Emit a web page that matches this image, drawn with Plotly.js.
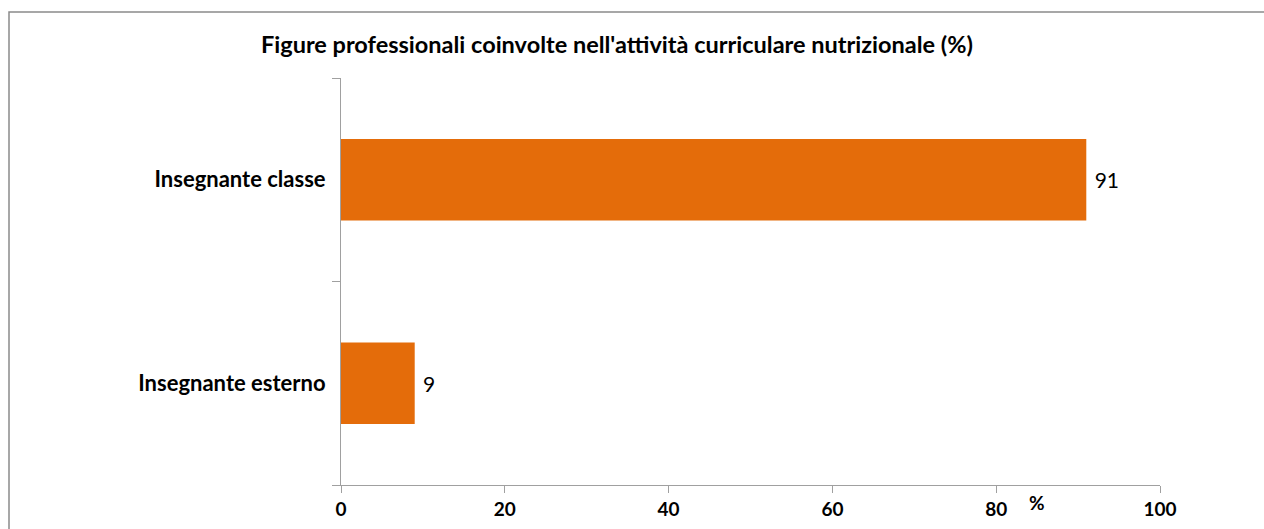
<!DOCTYPE html>
<html>
<head>
<meta charset="utf-8">
<script src="https://cdn.plot.ly/plotly-3.0.1.min.js"></script>
<style>html,body{margin:0;padding:0;background:#fff;}#chart{width:1264px;height:529px;}</style>
</head>
<body>
<div id="chart"></div>
<script>
const categories = ["Insegnante esterno", "Insegnante classe"];
const values = [9, 91];
const xTicks = [0, 20, 40, 60, 80, 100];
const chartTitle = "Figure professionali coinvolte nell'attività curriculare nutrizionale (%)";
const unitLabel = "%";

const W = 1264, H = 529;
const mL = 341, mR = 104, mT = 78, mB = 44;
const pw = W - mL - mR, ph = H - mT - mB;
const px = v => (v - mL) / pw;
const py = v => 1 - (v - mT) / ph;

const font = "Lato, 'Open Sans', sans-serif";

Plotly.newPlot("chart", [{
  type: "bar",
  orientation: "h",
  y: categories,
  x: values,
  width: 0.4,
  marker: {color: "#E46C0A"},
  text: values.map(v => " " + v),
  textposition: "outside",
  textfont: {family: font, size: 21, color: "#000"},
  cliponaxis: false,
  hoverinfo: "none"
}], {
  width: W, height: H,
  margin: {l: mL, r: mR, t: mT, b: mB, pad: 0},
  paper_bgcolor: "#fff",
  plot_bgcolor: "#fff",
  showlegend: false,
  title: {
    text: "<b>" + chartTitle + "</b>",
    font: {family: font, size: 23.5, color: "#000"},
    x: 617 / W, xref: "container", xanchor: "center",
    y: 1 - 45 / H, yref: "container", yanchor: "middle"
  },
  xaxis: {
    range: [0, 100],
    tickvals: xTicks,
    ticktext: xTicks.map(v => "<b>" + v + "</b>"),
    ticks: "outside", ticklen: 7, tickcolor: "#a0a0a0",
    showline: true, linecolor: "#a0a0a0", linewidth: 1,
    showgrid: false, zeroline: false,
    tickfont: {family: font, size: 19, color: "#000"},
    ticklabelstandoff: 0,
    fixedrange: true
  },
  yaxis: {
    type: "category",
    categoryorder: "array", categoryarray: categories,
    range: [-0.5, 1.5],
    ticks: "outside", ticklen: 8, tickson: "boundaries", tickcolor: "#a0a0a0",
    showline: true, linecolor: "#a0a0a0", linewidth: 1,
    showgrid: false, zeroline: false,
    ticktext: categories.map(c => "<b>" + c + "</b>"),
    tickvals: categories,
    tickfont: {family: font, size: 22, color: "#000"},
    ticklabelstandoff: 10,
    fixedrange: true
  },
  annotations: [{
    text: "<b>" + unitLabel + "</b>",
    xref: "x", x: 85.0,
    yref: "paper", y: py(502),
    xanchor: "center", yanchor: "middle",
    showarrow: false,
    font: {family: font, size: 19, color: "#000"}
  }],
  shapes: [{
    type: "rect", xref: "paper", yref: "paper",
    x0: px(9), x1: px(1280), y0: py(12), y1: py(560),
    line: {color: "#8a8a8a", width: 1.5},
    fillcolor: "rgba(0,0,0,0)"
  }]
}, {displayModeBar: false, staticPlot: true});
</script>
</body>
</html>
